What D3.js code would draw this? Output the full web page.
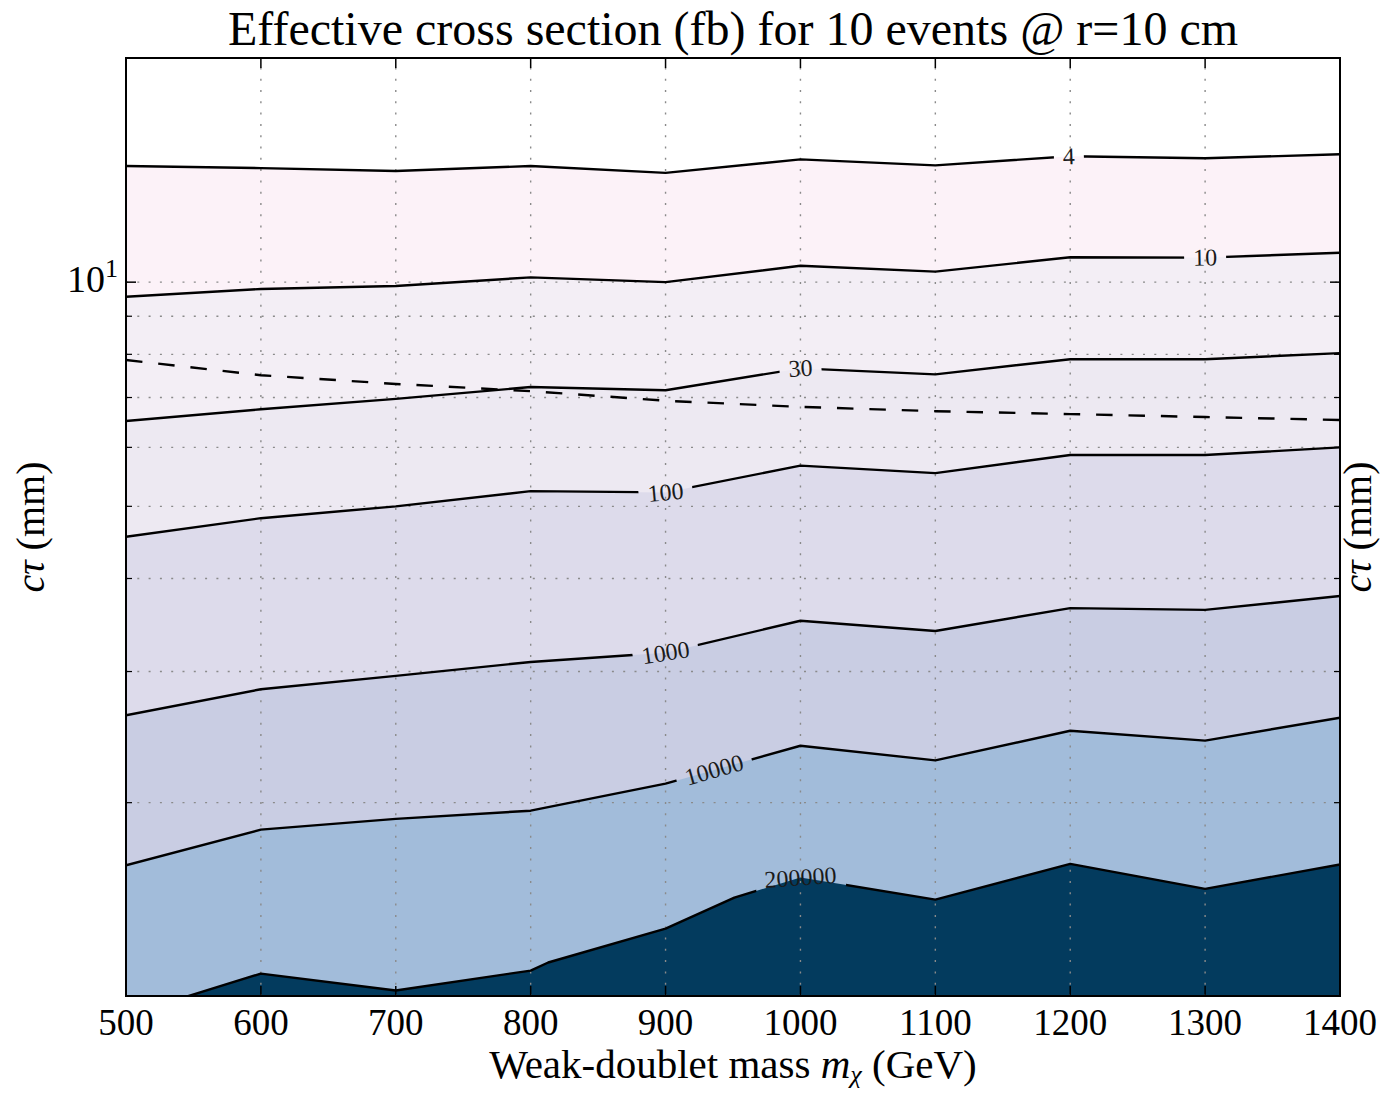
<!DOCTYPE html>
<html>
<head>
<meta charset="utf-8">
<script src="https://cdn.jsdelivr.net/npm/d3@7"></script>
<style>
  body { margin: 0; background: #fff; }
  svg text { font-family: "Liberation Serif", "Times New Roman", serif; fill: #000; }
</style>
</head>
<body>
<svg id="chart" width="1382" height="1093"></svg>
<script>
// ---- data -------------------------------------------------------------
// x: weak-doublet mass (GeV); y: c*tau (mm)
const massTicks = [500, 600, 700, 800, 900, 1000, 1100, 1200, 1300, 1400];
const levels = [4, 10, 30, 100, 1000, 10000, 200000];
const bandColors = ["#fcf2f8", "#f3eef5", "#ede9f2", "#dddbeb", "#c9cde3", "#a2bcda", "#033b5e"];

// contour vertices [mass, ctau] for each level
const contour4 = [[500,14.32],[600,14.23],[700,14.10],[800,14.32],[900,14.02],[1000,14.62],[1100,14.35],[1200,14.76],[1300,14.67],[1400,14.85]];
const contour10 = [[500,9.56],[600,9.79],[700,9.88],[800,10.15],[900,10.0],[1000,10.52],[1100,10.33],[1200,10.80],[1300,10.79],[1400,10.95]];
const contour30 = [[500,6.51],[600,6.75],[700,6.97],[800,7.23],[900,7.16],[1000,7.66],[1100,7.52],[1200,7.88],[1300,7.88],[1400,8.03]];
const contour100 = [[500,4.55],[600,4.82],[700,5.00],[800,5.24],[900,5.22],[1000,5.67],[1100,5.54],[1200,5.86],[1300,5.86],[1400,6.00]];
const contour1000 = [[500,2.62],[600,2.84],[700,2.96],[800,3.09],[900,3.18],[1000,3.51],[1100,3.40],[1200,3.65],[1300,3.63],[1400,3.79]];
const contour10000 = [[500,1.648],[600,1.840],[700,1.902],[800,1.951],[900,2.121],[1000,2.385],[1100,2.279],[1200,2.498],[1300,2.423],[1400,2.601]];
const contour200000 = [[500,1.036],[600,1.179],[700,1.119],[800,1.190],[813,1.220],[900,1.355],[951,1.491],[1000,1.587],[1100,1.482],[1200,1.655],[1300,1.532],[1400,1.652]];
const contours = [contour4, contour10, contour30, contour100, contour1000, contour10000, contour200000];

// mass at which each contour carries its inline label
const labelMass = [1199, 1300, 1000, 900, 900, 936, 1000];

// dashed reference curve
const dashedCtau = [7.86, 7.50, 7.30, 7.14, 6.93, 6.80, 6.71, 6.65, 6.59, 6.53];

const yMajorTicks = [10];
const yMinorTicks = [2, 3, 4, 5, 6, 7, 8, 9];

// ---- layout -------------------------------------------------------------
const plot = { left: 126, top: 58, right: 1340, bottom: 996 };
const svg = d3.select("#chart");

const x = d3.scaleLinear().domain([500, 1400]).range([plot.left, plot.right]);
const y = d3.scaleLog().domain([1.1, 20]).range([plot.bottom, plot.top]);

const defs = svg.append("defs");
defs.append("clipPath").attr("id", "plotClip")
  .append("rect")
  .attr("x", plot.left).attr("y", plot.top)
  .attr("width", plot.right - plot.left).attr("height", plot.bottom - plot.top);

// ---- filled bands: each level filled from its contour down to the bottom
const area = d3.area()
  .x(d => x(d[0]))
  .y0(plot.bottom)
  .y1(d => y(d[1]));

const fills = svg.append("g").attr("clip-path", "url(#plotClip)");
contours.forEach((c, i) => {
  fills.append("path").attr("d", area(c)).attr("fill", bandColors[i]);
});

// ---- grid
const grid = svg.append("g")
  .attr("stroke", "#8a8a8a").attr("stroke-width", 1.4)
  .attr("stroke-dasharray", "2,9.3");
massTicks.slice(1, -1).forEach(m => {
  grid.append("line")
    .attr("x1", x(m)).attr("x2", x(m))
    .attr("y1", plot.bottom).attr("y2", plot.top);
});
yMajorTicks.concat(yMinorTicks).forEach(v => {
  grid.append("line")
    .attr("x1", plot.left).attr("x2", plot.right)
    .attr("y1", y(v)).attr("y2", y(v));
});

// ---- contour lines with inline labels
const line = d3.line().x(d => x(d[0])).y(d => y(d[1]));

function yAtPixel(c, px) {
  const pts = c.map(d => [x(d[0]), y(d[1])]);
  for (let k = 0; k < pts.length - 1; k++) {
    const a = pts[k], b = pts[k + 1];
    if (px >= a[0] && px <= b[0]) {
      const t = (px - a[0]) / (b[0] - a[0]);
      return a[1] + t * (b[1] - a[1]);
    }
  }
  return px < pts[0][0] ? pts[0][1] : pts[pts.length - 1][1];
}

const labelLayer = svg.append("g");
const mask = defs.append("mask").attr("id", "labelGaps").attr("maskUnits", "userSpaceOnUse")
  .attr("x", 0).attr("y", 0).attr("width", 1382).attr("height", 1093);
mask.append("rect").attr("x", 0).attr("y", 0).attr("width", 1382).attr("height", 1093).attr("fill", "#fff");

levels.forEach((lev, i) => {
  const c = contours[i];
  const cx = x(labelMass[i]);
  const cy = yAtPixel(c, cx);
  const t = labelLayer.append("text")
    .attr("font-size", 24)
    .attr("text-anchor", "middle")
    .attr("dominant-baseline", "central")
    .style("fill", "#1a1a1a")
    .text(lev);
  const w = t.node().getComputedTextLength();
  const half = w / 2 + 9;
  const ang = Math.atan2(yAtPixel(c, cx + half) - yAtPixel(c, cx - half), 2 * half) * 180 / Math.PI;
  t.attr("transform", `translate(${cx},${cy}) rotate(${ang})`);
  mask.append("rect")
    .attr("x", -half).attr("y", -12).attr("width", 2 * half).attr("height", 24)
    .attr("fill", "#000")
    .attr("transform", `translate(${cx},${cy}) rotate(${ang})`);
});

const lines = svg.append("g").attr("clip-path", "url(#plotClip)")
  .append("g").attr("mask", "url(#labelGaps)");
contours.forEach(c => {
  lines.append("path").attr("d", line(c))
    .attr("fill", "none").attr("stroke", "#000").attr("stroke-width", 2.4)
    .attr("stroke-linejoin", "round");
});

// dashed curve
svg.append("path")
  .attr("clip-path", "url(#plotClip)")
  .attr("d", line(massTicks.map((m, i) => [m, dashedCtau[i]])))
  .attr("fill", "none").attr("stroke", "#000").attr("stroke-width", 2.4)
  .attr("stroke-dasharray", "16.5,15.9");

labelLayer.raise();

// ---- frame and ticks
const axes = svg.append("g").attr("stroke", "#000");
axes.append("rect")
  .attr("x", plot.left).attr("y", plot.top)
  .attr("width", plot.right - plot.left).attr("height", plot.bottom - plot.top)
  .attr("fill", "none").attr("stroke-width", 2);

massTicks.forEach(m => {
  axes.append("line").attr("x1", x(m)).attr("x2", x(m)).attr("y1", plot.bottom).attr("y2", plot.bottom - 10).attr("stroke-width", 1.5);
  axes.append("line").attr("x1", x(m)).attr("x2", x(m)).attr("y1", plot.top).attr("y2", plot.top + 10).attr("stroke-width", 1.5);
});
yMajorTicks.forEach(v => {
  axes.append("line").attr("x1", plot.left).attr("x2", plot.left + 10).attr("y1", y(v)).attr("y2", y(v)).attr("stroke-width", 1.5);
  axes.append("line").attr("x1", plot.right).attr("x2", plot.right - 10).attr("y1", y(v)).attr("y2", y(v)).attr("stroke-width", 1.5);
});
yMinorTicks.forEach(v => {
  axes.append("line").attr("x1", plot.left).attr("x2", plot.left + 6).attr("y1", y(v)).attr("y2", y(v)).attr("stroke-width", 1.2);
  axes.append("line").attr("x1", plot.right).attr("x2", plot.right - 6).attr("y1", y(v)).attr("y2", y(v)).attr("stroke-width", 1.2);
});

// tick labels
massTicks.forEach(m => {
  svg.append("text").attr("x", x(m)).attr("y", 1035)
    .attr("text-anchor", "middle").attr("font-size", 37).text(m);
});
yMajorTicks.forEach(v => {
  const exp = Math.round(Math.log10(v));
  const t = svg.append("text").attr("x", 118).attr("y", y(v) + 10)
    .attr("text-anchor", "end").attr("font-size", 38);
  t.append("tspan").text("10");
  t.append("tspan").attr("font-size", 26).attr("dy", -15).text(exp);
});

// titles
svg.append("text").attr("x", (plot.left + plot.right) / 2).attr("y", 45)
  .attr("text-anchor", "middle").attr("font-size", 48)
  .text("Effective cross section (fb) for 10 events @ r=10 cm");

const xl = svg.append("text").attr("x", (plot.left + plot.right) / 2).attr("y", 1078)
  .attr("text-anchor", "middle").attr("font-size", 41);
xl.append("tspan").text("Weak-doublet mass ");
xl.append("tspan").attr("font-style", "italic").text("m");
xl.append("tspan").attr("font-style", "italic").attr("font-size", 26).attr("dy", 5).text("χ");
xl.append("tspan").attr("dy", -5).text(" (GeV)");

function yLabel(bx) {
  const t = svg.append("text")
    .attr("transform", `translate(${bx},${(plot.top + plot.bottom) / 2}) rotate(-90)`)
    .attr("text-anchor", "middle").attr("font-size", 40);
  t.append("tspan").attr("font-style", "italic").text("cτ");
  t.append("tspan").text(" (mm)");
}
yLabel(44);
yLabel(1371);
</script>
</body>
</html>
